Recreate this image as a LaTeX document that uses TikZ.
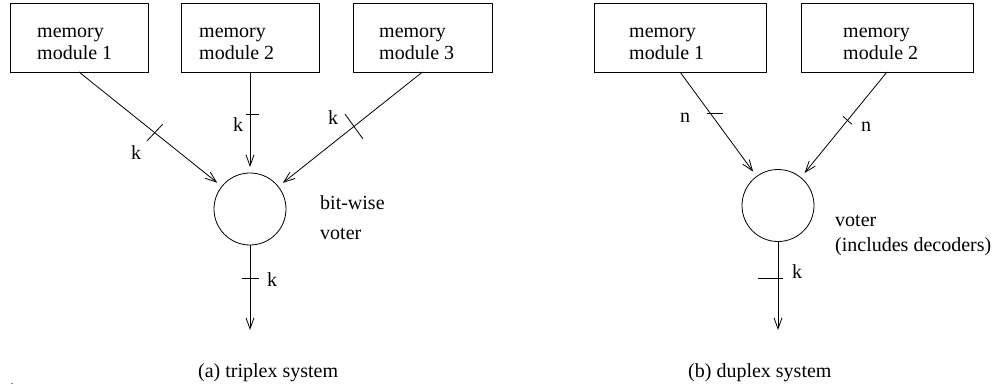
\documentclass[tikz,border=0pt]{standalone}
\usepackage{fontspec}
\setmainfont{Liberation Serif}
\usetikzlibrary{arrows.meta,calc}
\begin{document}
\begin{tikzpicture}[x=1pt,y=-1pt,
  every node/.style={font=\fontsize{20}{22}\selectfont},
  membox/.style={draw, rectangle, line width=0.8pt, minimum height=69pt,
                 inner sep=0pt, outer sep=0pt},
  boxtext/.style={align=left, inner sep=0pt, anchor=west},
  voter/.style={draw, circle, line width=0.8pt, minimum size=72pt,
                inner sep=0pt, outer sep=0pt},
  feed/.style={line width=0.8pt, -{Straight Barb[length=11pt,width=8pt]},
               shorten >=6pt},
  result/.style={line width=0.8pt, -{Straight Barb[length=11pt,width=8pt]}},
  tickmark/.style={line width=0.8pt},
  lbl/.style={inner sep=0pt},
  note/.style={inner sep=0pt, anchor=base west},
]
\useasboundingbox (0,0) rectangle (997,389);

% ---------- (a) triplex system ----------
\node[membox, minimum width=138pt] (m1) at (79,37.5) {};
\node[membox, minimum width=138pt] (m2) at (250,37.5) {};
\node[membox, minimum width=139pt] (m3) at (422.5,37.5) {};
\node[boxtext] (m1t) at (37,44) {memory\\module 1};
\node[boxtext] (m2t) at (199,44) {memory\\module 2};
\node[boxtext] (m3t) at (379,44) {memory\\module 3};

\node[voter] (v) at (250,209) {};
\coordinate (vout) at (250,330);

\draw[feed] (m1.south) -- coordinate[pos=0.53] (t1) (v);
\draw[feed] (m2.south) -- coordinate[pos=0.416] (t2) (v);
\draw[feed] (m3.south) -- coordinate[pos=0.475] (t3) (v);
\draw[result] (v.south) -- coordinate[pos=0.388] (t4) (vout);

\draw[tickmark] ($(t1)+(-8,8.5)$) -- ($(t1)+(8,-8.5)$);
\draw[tickmark] ($(t2)+(-4,0)$) -- ($(t2)+(9,0)$);
\draw[tickmark] ($(t3)+(-9,-12.5)$) -- ($(t3)+(9,12.5)$);
\draw[tickmark] ($(t4)+(-8,0)$) -- ($(t4)+(9,0)$);

\node[lbl] (k1) at (136,153) {k};
\node[lbl] (k2) at (238,124.5) {k};
\node[lbl] (k3) at (333,118) {k};
\node[lbl] (k4) at (272,280) {k};

\node[note] (vlab1) at (320,209) {bit-wise};
\node[note] (vlab2) at (320,239) {voter};

\node[note] (capa) at (198,377) {(a) triplex system};
\node[inner sep=0pt, anchor=base, font=\fontsize{10}{12}\selectfont] (dot) at (12,384) {.};

% ---------- (b) duplex system ----------
\node[membox, minimum width=172pt] (n1) at (680,37.5) {};
\node[membox, minimum width=172pt] (n2) at (887,37.5) {};
\node[boxtext] (n1t) at (629,44) {memory\\module 1};
\node[boxtext] (n2t) at (843,44) {memory\\module 2};

\node[voter] (w) at (778,205.5) {};
\coordinate (wout) at (778,330);

\draw[feed] (n1.south) -- coordinate[pos=0.40] (u1) (w);
\draw[feed] (n2.south) -- coordinate[pos=0.458] (u2) (w);
\draw[result] (w.south) -- coordinate[pos=0.412] (u3) (wout);

\draw[tickmark] ($(u1)+(-4,0)$) -- ($(u1)+(12,0)$);
\draw[tickmark] ($(u2)+(-4.5,-4)$) -- ($(u2)+(4.5,4)$);
\draw[tickmark] ($(u3)+(-20,0)$) -- ($(u3)+(5,0)$);

\node[lbl] (n1l) at (685,118) {n};
\node[lbl] (n2l) at (866,127) {n};
\node[lbl] (k5) at (797,272) {k};

\node[note] (wlab1) at (835,226) {voter};
\node[note] (wlab2) at (835,251) {(includes decoders)};

\node[note] (capb) at (688,377) {(b) duplex system};
\end{tikzpicture}
\end{document}
